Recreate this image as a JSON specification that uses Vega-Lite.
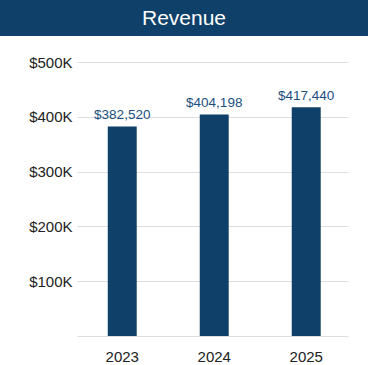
{
  "$schema": "https://vega.github.io/schema/vega-lite/v6.json",
  "padding": 0,
  "background": "white",
  "spacing": 19,
  "config": {"font": "Liberation Sans", "view": {"stroke": null}},
  "vconcat": [
    {
      "width": 291,
      "height": 36,
      "view": {"fill": "#0f406a", "stroke": null},
      "data": {"values": [{"title": "Revenue", "pos": 1}]},
      "mark": {"type": "text", "color": "white", "fontSize": 21, "font": "Liberation Sans", "baseline": "middle", "align": "center", "dx": -38.5, "dy": 1},
      "encoding": {
        "text": {"field": "title", "type": "nominal"},
        "y": {"field": "pos", "type": "quantitative", "scale": {"domain": [0, 2]},
          "axis": {"title": null, "labels": false, "ticks": false, "grid": false, "domain": true, "domainColor": "#0f406a", "domainWidth": 156, "domainCap": "butt", "translate": 0, "minExtent": 77, "maxExtent": 77}}
      }
    },
    {
      "width": 271,
      "height": 274,
      "data": {"values": [
        {"year": "2023", "revenue": 382520},
        {"year": "2024", "revenue": 404198},
        {"year": "2025", "revenue": 417440}
      ]},
      "encoding": {
        "x": {"field": "year", "type": "nominal", "sort": null,
          "scale": {"paddingInner": 0.685, "paddingOuter": 0.3155, "align": 0.53},
          "axis": {"title": null, "labelAngle": 0, "domain": false, "ticks": false, "labelFontSize": 15, "labelColor": "#222", "labelPadding": 13, "labelFont": "Liberation Sans"}},
        "y": {"field": "revenue", "type": "quantitative",
          "scale": {"domain": [0, 500000], "nice": false},
          "axis": {"title": null, "values": [0, 100000, 200000, 300000, 400000, 500000], "labelExpr": "datum.value == 0 ? '' : '$' + format(datum.value / 1000, 'd') + 'K'", "domain": false, "ticks": false, "gridColor": "#dddddd", "gridWidth": 1.2, "labelFontSize": 15, "labelColor": "#222", "labelPadding": 5, "minExtent": 77, "labelFont": "Liberation Sans"}}
      },
      "layer": [
        {"mark": {"type": "bar", "color": "#0f406a"}},
        {"mark": {"type": "text", "baseline": "bottom", "dy": -4, "fontSize": 13.5, "color": "#1b4f80", "font": "Liberation Sans"},
          "encoding": {"text": {"field": "revenue", "type": "quantitative", "format": "$,d"}}}
      ]
    }
  ]
}
